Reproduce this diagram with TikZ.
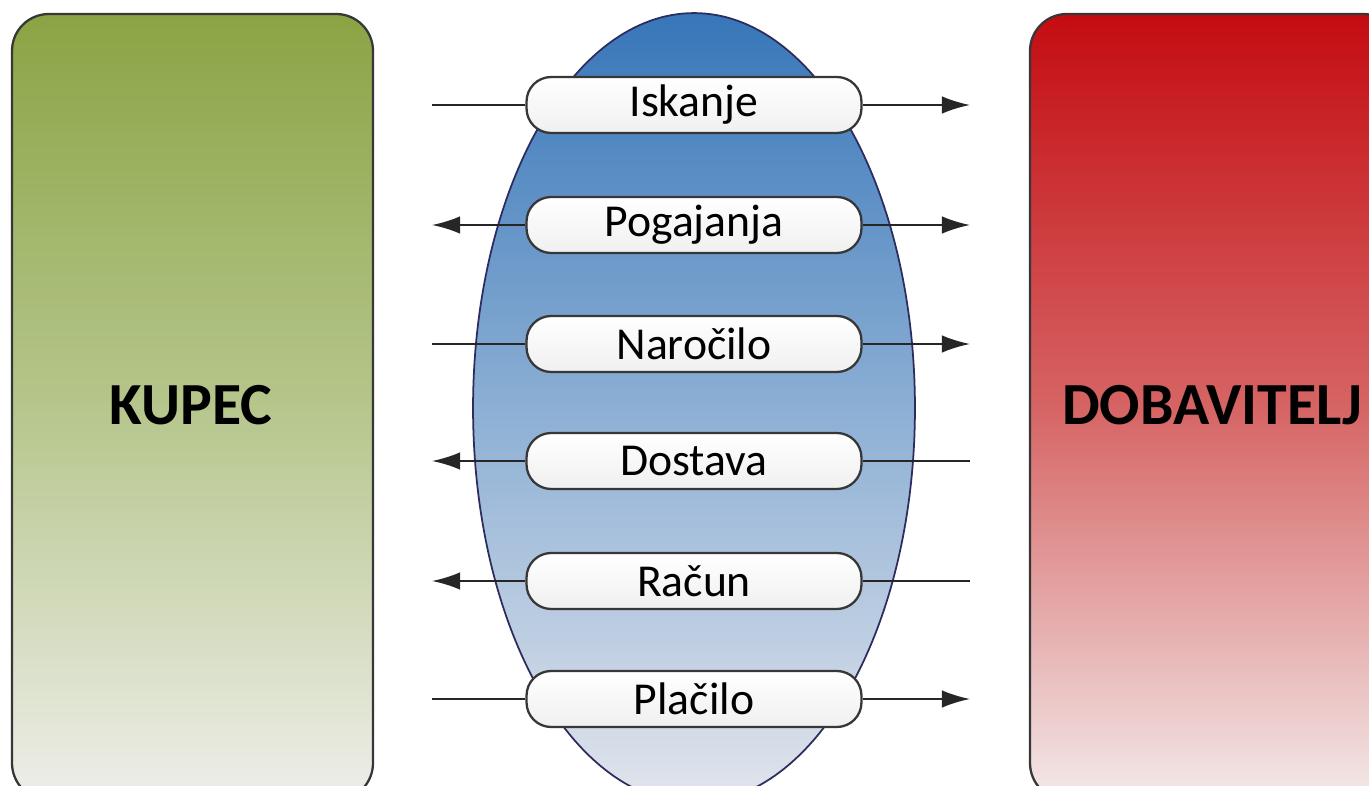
\documentclass[tikz,border=0pt]{standalone}
\usepackage{fontspec}
\setmainfont{Carlito}
\usetikzlibrary{arrows.meta}
\definecolor{kupecTop}{RGB}{138,164,68}
\definecolor{kupecMid}{RGB}{182,198,140}
\definecolor{kupecBot}{RGB}{238,238,234}
\definecolor{dobTop}{RGB}{196,12,18}
\definecolor{dobMid}{RGB}{214,100,100}
\definecolor{dobBot}{RGB}{243,233,233}
\definecolor{elTop}{RGB}{55,118,185}
\definecolor{elMid}{RGB}{140,175,212}
\definecolor{elBot}{RGB}{226,229,236}
\definecolor{obroba}{RGB}{55,55,55}
\tikzset{
  faza/.style={draw=obroba, line width=1.3pt, top color=white, bottom color=black!6,
    rounded corners=14pt, minimum width=6.7cm, minimum height=1.12cm, inner sep=0pt,
    font=\fontsize{26}{28}\selectfont},
  stran/.style={draw=obroba, line width=1.3pt, rounded corners=21pt},
  tok/.style={line width=1.2pt, draw=black!85},
  >={Latex[length=16pt,width=10pt]}
}
\begin{document}
\begin{tikzpicture}[x=0.02cm,y=-0.02cm]
  \useasboundingbox (0,0) rectangle (1369,786);
  \clip (0,0) rectangle (1369,786);
  % stranki
  \draw[stran, top color=kupecTop, bottom color=kupecBot, middle color=kupecMid]
    (12,14) rectangle (373,800);
  \draw[stran, top color=dobTop, bottom color=dobBot, middle color=dobMid]
    (1030,14) rectangle (1400,800);
  \node[font=\bfseries\fontsize{34}{36}\selectfont] (kupec) at (191,405) {KUPEC};
  \node[font=\bfseries\fontsize{34}{36}\selectfont, anchor=west] (dob) at (1056,405) {DOBAVITELJ};
  % elipsa
  \draw[draw=obroba!80!blue, line width=1pt, top color=elTop, bottom color=elBot, middle color=elMid]
    (694,408) ellipse [x radius=4.42cm, y radius=7.9cm];
  % faze
  \foreach \ime/\besedilo/\y/\levo/\desno in {
      isk/Iskanje/105/-/->,
      pog/Pogajanja/225/->/->,
      nar/Naročilo/344/-/->,
      dos/Dostava/461/->/-,
      rac/Račun/581/->/-,
      pla/Plačilo/699/-/->}{
    \node[faza] (\ime) at (694,\y) {\besedilo};
    \coordinate (L\ime) at (432,\y);
    \coordinate (R\ime) at (970,\y);
    \draw[tok, \levo] (\ime.west) -- (L\ime);
    \draw[tok, \desno] (\ime.east) -- (R\ime);
  }
\end{tikzpicture}
\end{document}
